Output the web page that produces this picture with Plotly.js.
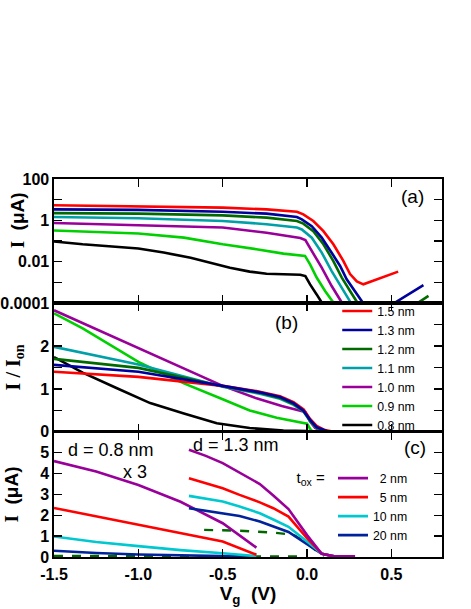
<!DOCTYPE html>
<html>
<head>
<meta charset="utf-8">
<script src="https://cdn.plot.ly/plotly-3.0.1.min.js"></script>
<style>
html, body { margin: 0; padding: 0; background: #fff; }
#chart { width: 471px; height: 609px; }
</style>
</head>
<body>
<div id="chart"></div>
<script>
// panel (a): I (uA) vs Vg, log axis, one curve per thickness
const aV_15 = [-1.5, -1.0, -0.5, -0.24, -0.06, -0.022, 0.037, 0.097, 0.156, 0.215, 0.255, 0.295, 0.334, 0.54];
const aI_15 = [5.4, 4.9, 4.1, 3.4, 2.6, 1.95, 0.93, 0.30, 0.069, 0.011, 0.0025, 0.0011, 0.0008, 0.0033];
const aV_13 = [-1.5, -1.0, -0.5, -0.24, -0.06, -0.031, 0.028, 0.087, 0.146, 0.196, 0.235, 0.285, 0.33, 0.42, 0.522, 0.69];
const aI_13 = [3.4, 3.2, 2.6, 2.1, 1.45, 1.12, 0.52, 0.145, 0.027, 0.0062, 0.0014, 0.00038, 0.000105, 0.00003, 0.000105, 0.00074];
const aV_12 = [-1.5, -1.0, -0.5, -0.24, -0.06, -0.022, 0.037, 0.097, 0.156, 0.206, 0.255, 0.298, 0.5, 0.66, 0.72];
const aI_12 = [2.24, 2.1, 1.74, 1.35, 0.93, 0.69, 0.30, 0.069, 0.0107, 0.0017, 0.00038, 0.000105, 0.00001, 0.000105, 0.00022];
const aV_11 = [-1.5, -1.0, -0.5, -0.24, -0.06, -0.031, 0.028, 0.087, 0.146, 0.206, 0.259];
const aI_11 = [1.45, 1.26, 0.93, 0.65, 0.45, 0.36, 0.145, 0.0275, 0.0035, 0.00055, 0.000105];
const aV_10 = [-1.5, -1.0, -0.5, -0.24, -0.04, -0.01, 0.028, 0.087, 0.146, 0.206];
const aI_10 = [0.74, 0.59, 0.45, 0.25, 0.14, 0.11, 0.033, 0.0051, 0.00066, 0.000105];
const aV_09 = [-1.5, -1.0, -0.73, -0.5, -0.3, -0.14, -0.012, 0.018, 0.057, 0.107, 0.156];
const aI_09 = [0.32, 0.23, 0.145, 0.069, 0.040, 0.0245, 0.019, 0.0074, 0.0017, 0.00038, 0.000105];
const aV_08 = [-1.5, -1.33, -1.0, -0.85, -0.69, -0.575, -0.457, -0.34, -0.24, -0.14, -0.04, -0.01, 0.018, 0.057, 0.087];
const aI_08 = [0.095, 0.069, 0.043, 0.0275, 0.0155, 0.0089, 0.0051, 0.0033, 0.0026, 0.00245, 0.00234, 0.002, 0.00079, 0.00026, 0.000105];

// panel (b): I / Ion
const bV_15 = [-1.5, -1.0, -0.5, -0.3, -0.16, -0.08, -0.02, 0.018, 0.057, 0.1, 0.15, 0.2, 0.54];
const bR_15 = [1.40, 1.28, 1.07, 0.95, 0.83, 0.69, 0.52, 0.30, 0.14, 0.05, 0.01, 0, 0];
const bV_13 = [-1.5, -1.0, -0.5, -0.28, -0.16, -0.08, -0.022, 0.018, 0.057, 0.117, 0.16, 0.69];
const bR_13 = [1.56, 1.40, 1.07, 0.92, 0.81, 0.67, 0.50, 0.28, 0.11, 0.02, 0, 0];
const bV_12 = [-1.5, -1.0, -0.5, -0.28, -0.16, -0.08, -0.022, 0.018, 0.057, 0.11, 0.15, 0.72];
const bR_12 = [1.70, 1.49, 1.06, 0.91, 0.79, 0.65, 0.49, 0.26, 0.10, 0.02, 0, 0];
const bV_11 = [-1.5, -1.0, -0.5, -0.28, -0.16, -0.08, -0.022, 0.018, 0.057, 0.1, 0.14, 0.76];
const bR_11 = [1.98, 1.57, 1.05, 0.89, 0.77, 0.63, 0.48, 0.25, 0.09, 0.02, 0, 0];
const bV_10 = [-1.5, -1.0, -0.5, -0.3, -0.15, -0.04, -0.01, 0.018, 0.048, 0.095, 0.15, 0.6];
const bR_10 = [2.83, 1.95, 1.07, 0.78, 0.60, 0.49, 0.46, 0.24, 0.09, 0.01, 0, 0];
const bV_09 = [-1.5, -1.33, -1.0, -0.73, -0.5, -0.34, -0.18, -0.02, 0.0, 0.025, 0.05, 0.8];
const bR_09 = [2.76, 2.41, 1.63, 1.13, 0.76, 0.50, 0.33, 0.21, 0.19, 0.03, 0, 0];
const bV_08 = [-1.5, -1.33, -1.13, -0.93, -0.73, -0.535, -0.34, -0.14, 0.0, 0.05, 0.6];
const bR_08 = [1.74, 1.38, 1.02, 0.67, 0.43, 0.20, 0.09, 0.03, 0.02, 0, 0];

const thickNames = ['1.5 nm', '1.3 nm', '1.2 nm', '1.1 nm', '1.0 nm', '0.9 nm', '0.8 nm'];
const thickColors = ['#ff0000', '#00009c', '#006a00', '#00a0a8', '#990099', '#00d000', '#000000'];

// panel (c): I (uA) for several oxide thicknesses, d = 0.8 nm (x3) and d = 1.3 nm
const toxNames = ['\u20072 nm', '\u20075 nm', '10 nm', '20 nm'];
const toxColors = ['#990099', '#ff0000', '#00c8d0', '#00229a'];
const c08V = [-1.5, -1.25, -1.0, -0.75, -0.5, -0.3];
const c08_2 = [4.6, 4.1, 3.45, 2.65, 1.62, 0.45];
const c08_5 = [2.35, 1.95, 1.55, 1.15, 0.74, 0.11];
const c08_10 = [0.98, 0.72, 0.52, 0.33, 0.18, 0.04];
const c08_20 = [0.30, 0.19, 0.12, 0.07, 0.04, 0.02];
const c08dV = [-1.5, -1.0, -0.5, 0.0];
const c08_dash = [0.05, 0.04, 0.03, 0.02];
const c13V_2 = [-0.7, -0.6, -0.5, -0.4, -0.28, -0.2, -0.11, 0.0, 0.087, 0.16, 0.285];
const c13_2 = [5.14, 4.85, 4.5, 4.05, 3.5, 2.95, 2.3, 1.05, 0.15, 0.03, 0.03];
const c13V = [-0.7, -0.6, -0.5, -0.4, -0.28, -0.2, -0.11, 0.0, 0.087, 0.16];
const c13_5 = [3.78, 3.55, 3.3, 2.98, 2.62, 2.34, 1.94, 0.9, 0.16, 0.03];
const c13_10 = [2.93, 2.80, 2.66, 2.42, 2.1, 1.8, 1.45, 0.74, 0.16, 0.03];
const c13_20 = [2.34, 2.22, 2.10, 1.97, 1.7, 1.45, 1.2, 0.62, 0.16, 0.03];
const c13dV = [-0.61, -0.4, -0.2, -0.08, 0.0, 0.06, 0.1];
const c13_dash = [1.30, 1.26, 1.17, 1.06, 0.66, 0.26, 0.05];

const xTickVals = [-1.5, -1.0, -0.5, 0.0, 0.5];
const xTickText = ['-1.5', '-1.0', '-0.5', '0.0', '0.5'];
const logTickVals = [1e-4, 0.01, 1, 100];
const logTickText = ['0.0001', '0.01', '1', '100'];
const logMinorVals = [1e-3, 0.1, 10];

const sans = 'Liberation Sans, Arial, sans-serif';
const serif = 'Liberation Serif, Times New Roman, serif';

function curve(x, y, color, xa, ya, extra) {
    return Object.assign({
        x: x, y: y, xaxis: xa, yaxis: ya,
        type: 'scatter', mode: 'lines',
        line: { color: color, width: 2.6 },
        showlegend: false, hoverinfo: 'skip'
    }, extra || {});
}

let aSets = [[aV_15, aI_15], [aV_13, aI_13], [aV_12, aI_12], [aV_11, aI_11], [aV_10, aI_10], [aV_09, aI_09], [aV_08, aI_08]];
let bSets = [[bV_15, bR_15], [bV_13, bR_13], [bV_12, bR_12], [bV_11, bR_11], [bV_10, bR_10], [bV_09, bR_09], [bV_08, bR_08]];
// draw thin ones first so 1.3 nm ends up on top like the original
let drawOrder = [6, 5, 4, 3, 2, 0, 1];

let data = [];
drawOrder.forEach(i => {
    data.push(curve(aSets[i][0], aSets[i][1], thickColors[i], 'x', 'y'));
});
drawOrder.forEach(i => {
    data.push(curve(bSets[i][0], bSets[i][1], thickColors[i], 'x2', 'y2', {
        name: thickNames[i], showlegend: true, legend: 'legend', legendrank: i + 1
    }));
});

let c08 = [c08_2, c08_5, c08_10, c08_20];
let c13 = [c13_2, c13_5, c13_10, c13_20];
data.push(curve(c08dV, c08_dash, '#006600', 'x3', 'y3', { line: { color: '#006600', width: 2.4, dash: 'dash' } }));
data.push(curve(c13dV, c13_dash, '#006600', 'x3', 'y3', { line: { color: '#006600', width: 2.4, dash: 'dash' } }));
for (let i = 3; i >= 0; i--) {
    data.push(curve(c08V, c08[i], toxColors[i], 'x3', 'y3'));
}
for (let i = 3; i >= 0; i--) {
    data.push(curve(i === 0 ? c13V_2 : c13V, c13[i], toxColors[i], 'x3', 'y3', {
        name: toxNames[i], showlegend: true, legend: 'legend2', legendrank: i + 1
    }));
}

const tickFont = { family: sans, size: 16, color: '#000', weight: 'bold' };
const minorTicks = { ticks: 'inside', ticklen: 8, tickwidth: 1.5, tickcolor: '#000' };
const frame = {
    showline: true, linecolor: '#000', linewidth: 1.6, mirror: 'ticks',
    ticks: 'inside', ticklen: 8, tickwidth: 1.5, tickcolor: '#000',
    showgrid: false, zeroline: false, tickfont: tickFont
};
const yTitleText = '<span style="font-family:Liberation Serif">I</span>\u00a0\u00a0(\u03bcA)';

let layout = {
    width: 471, height: 609,
    margin: { l: 54, r: 29, t: 179, b: 52 },
    paper_bgcolor: '#fff', plot_bgcolor: '#fff',
    font: { family: sans, color: '#000' },
    xaxis: Object.assign({}, frame, { anchor: 'y', range: [-1.5, 0.8], tickvals: xTickVals, showticklabels: false }),
    xaxis2: Object.assign({}, frame, { anchor: 'y2', range: [-1.5, 0.8], tickvals: xTickVals, showticklabels: false }),
    xaxis3: Object.assign({}, frame, {
        anchor: 'y3', range: [-1.5, 0.8], tickvals: xTickVals, ticktext: xTickText, ticklabelstandoff: 2,
        title: { text: 'V<sub>g</sub>\u00a0\u00a0(V)', font: { family: sans, size: 19, weight: 'bold' }, standoff: 4 }
    }),
    yaxis: Object.assign({}, frame, {
        type: 'log', domain: [0.672, 1], anchor: 'x', range: [-4, 2],
        tickvals: logTickVals, ticktext: logTickText,
        minor: Object.assign({ tickvals: logMinorVals }, minorTicks)
    }),
    yaxis2: Object.assign({}, frame, {
        domain: [0.331, 0.672], anchor: 'x2', range: [0, 3],
        tickvals: [0, 1, 2],
        minor: Object.assign({ tickvals: [0.5, 1.5, 2.5] }, minorTicks),
        title: { text: 'I / I<sub>on</sub>', font: { family: serif, size: 20, weight: 'bold' }, standoff: 14 }
    }),
    yaxis3: Object.assign({}, frame, {
        domain: [0, 0.331], anchor: 'x3', range: [0, 6],
        tickvals: [0, 1, 2, 3, 4, 5],
        title: { text: yTitleText, font: { family: sans, size: 19, weight: 'bold' }, standoff: 16 }
    }),
    legend: {
        x: 0.73, y: 0.689, xanchor: 'left', yanchor: 'top',
        bgcolor: 'rgba(0,0,0,0)', borderwidth: 0, tracegroupgap: 0,
        font: { family: sans, size: 12.3, color: '#000' }
    },
    legend2: {
        x: 0.62, y: 0.247, xanchor: 'left', yanchor: 'top',
        bgcolor: 'rgba(0,0,0,0)', borderwidth: 0, tracegroupgap: 0,
        title: { text: 't<sub>ox</sub> =', side: 'left', font: { family: sans, size: 15, color: '#000' } },
        font: { family: sans, size: 12.3, color: '#000' }
    },
    annotations: [
        { text: yTitleText, textangle: -90, xref: 'paper', yref: 'paper', x: -0.095, y: 0.891,
          font: { family: sans, size: 19, weight: 'bold', color: '#000' } },
        { text: '(a)', xref: 'x domain', yref: 'y domain', x: 0.923, y: 0.855 },
        { text: '(b)', xref: 'x2 domain', yref: 'y2 domain', x: 0.598, y: 0.845 },
        { text: '(c)', xref: 'x3 domain', yref: 'y3 domain', x: 0.930, y: 0.872 },
        { text: 'd = 0.8 nm', xref: 'x3 domain', yref: 'y3 domain', x: 0.148, y: 0.856, font: { family: sans, size: 18 } },
        { text: 'x 3', xref: 'x3 domain', yref: 'y3 domain', x: 0.209, y: 0.68, font: { family: sans, size: 18 } },
        { text: 'd = 1.3 nm', xref: 'x3 domain', yref: 'y3 domain', x: 0.470, y: 0.896, font: { family: sans, size: 18 } }
    ].map(a => Object.assign({ xanchor: 'center', yanchor: 'middle', showarrow: false, font: { family: sans, size: 19, color: '#000' } }, a))
};

Plotly.newPlot('chart', data, layout, { staticPlot: true });
</script>
</body>
</html>
